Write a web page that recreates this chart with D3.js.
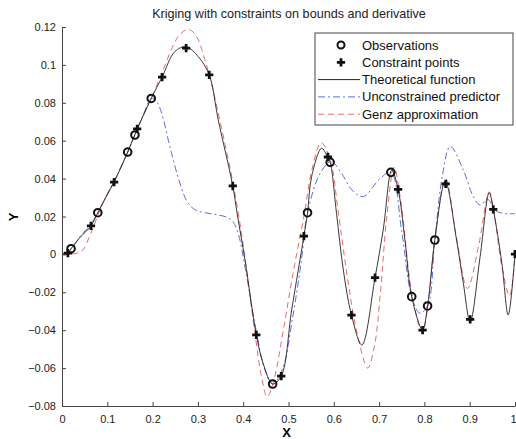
<!DOCTYPE html>
<html>
<head>
<meta charset="utf-8">
<script src="https://cdn.jsdelivr.net/npm/d3@7"></script>
<style>
  body { margin: 0; background: #fff; }
  svg { display: block; font-family: "Liberation Sans", Arial, sans-serif; }
</style>
</head>
<body>
<svg width="516" height="439"></svg>
<script>
// Data
const xTicks = [0, 0.1, 0.2, 0.3, 0.4, 0.5, 0.6, 0.7, 0.8, 0.9, 1];
const yTicks = [-0.08, -0.06, -0.04, -0.02, 0, 0.02, 0.04, 0.06, 0.08, 0.1, 0.12];

const obsX = [0.02, 0.079, 0.145, 0.161, 0.197, 0.465, 0.542, 0.592, 0.726, 0.772, 0.807, 0.823];
const obsY = [0.003, 0.022, 0.054, 0.063, 0.0823, -0.0684, 0.022, 0.0486, 0.0433, -0.0223, -0.0272, 0.0076];

const conX = [0.013, 0.064, 0.115, 0.166, 0.221, 0.274, 0.325, 0.377, 0.429, 0.484,
              0.534, 0.587, 0.639, 0.691, 0.742, 0.796, 0.847, 0.901, 0.952, 1.0];
const conY = [0.0007, 0.015, 0.0382, 0.0662, 0.0936, 0.1089, 0.0947, 0.0361, -0.0425, -0.0642,
              0.0097, 0.0514, -0.032, -0.0123, 0.0343, -0.0399, 0.0372, -0.0343, 0.0238, 0.0002];

const theoretical = [
  [0, 0], [0.013, 0.0007], [0.02, 0.003], [0.04, 0.009], [0.064, 0.015], [0.079, 0.022],
  [0.1, 0.0315], [0.115, 0.0382], [0.145, 0.054], [0.166, 0.0662], [0.197, 0.0823],
  [0.221, 0.0936], [0.249, 0.107], [0.274, 0.1096], [0.301, 0.1043], [0.325, 0.0947],
  [0.345, 0.0709], [0.377, 0.0361], [0.387, 0.021], [0.404, -0.003], [0.429, -0.0425],
  [0.444, -0.0575], [0.465, -0.0684], [0.484, -0.0642], [0.507, -0.0293], [0.534, 0.0097],
  [0.542, 0.022], [0.551, 0.041], [0.573, 0.056], [0.586, 0.0516], [0.592, 0.0486],
  [0.606, 0.0217], [0.621, -0.0082], [0.639, -0.032], [0.662, -0.0478], [0.691, -0.0123],
  [0.709, 0.0129], [0.728, 0.0445], [0.742, 0.0343], [0.757, 0.0076], [0.772, -0.0223],
  [0.796, -0.0399], [0.807, -0.0272], [0.823, 0.0076], [0.846, 0.0384], [0.871, 0.0076],
  [0.886, -0.0153], [0.901, -0.0355], [0.923, -0.0012], [0.943, 0.0326], [0.952, 0.0238],
  [0.971, -0.0047], [0.985, -0.032], [1, 0.0002]
];

const unconstrained = [
  [0, 0], [0.02, 0.003], [0.04, 0.0095], [0.064, 0.016], [0.079, 0.022], [0.1, 0.032],
  [0.12, 0.041], [0.145, 0.054], [0.161, 0.063], [0.18, 0.074], [0.197, 0.0823],
  [0.208, 0.081], [0.22, 0.0745], [0.238, 0.057], [0.256, 0.041], [0.276, 0.028],
  [0.294, 0.0235], [0.316, 0.022], [0.34, 0.021], [0.365, 0.0195], [0.378, 0.017],
  [0.389, 0.011], [0.405, -0.008], [0.43, -0.042], [0.448, -0.061], [0.465, -0.0684],
  [0.486, -0.061], [0.51, -0.032], [0.528, -0.004], [0.542, 0.022], [0.57, 0.0428],
  [0.594, 0.049], [0.617, 0.0428], [0.64, 0.034], [0.665, 0.0305], [0.702, 0.04],
  [0.726, 0.0433], [0.75, 0.012], [0.772, -0.0223], [0.79, -0.031], [0.807, -0.0272],
  [0.823, 0.0076], [0.84, 0.042], [0.857, 0.057], [0.886, 0.0445], [0.908, 0.0305],
  [0.923, 0.026], [0.94, 0.029], [0.958, 0.023], [0.98, 0.0215], [1, 0.0215]
];

const genz = [
  [0, 0], [0.03, 0.0005], [0.045, 0.002], [0.06, 0.009], [0.075, 0.018], [0.09, 0.027],
  [0.115, 0.0385], [0.145, 0.054], [0.166, 0.066], [0.197, 0.0825], [0.221, 0.096],
  [0.245, 0.11], [0.26, 0.116], [0.279, 0.1188], [0.297, 0.115], [0.315, 0.103],
  [0.33, 0.09], [0.35, 0.069], [0.378, 0.037], [0.4, 0.005], [0.425, -0.04],
  [0.44, -0.064], [0.453, -0.0752], [0.468, -0.066], [0.49, -0.038], [0.51, -0.01],
  [0.534, 0.02], [0.552, 0.045], [0.572, 0.059], [0.592, 0.05], [0.61, 0.022],
  [0.63, -0.012], [0.65, -0.04], [0.675, -0.06], [0.69, -0.048], [0.703, -0.02],
  [0.717, 0.02], [0.733, 0.046], [0.748, 0.028], [0.772, -0.02], [0.795, -0.041],
  [0.808, -0.027], [0.823, 0.0076], [0.847, 0.04], [0.87, 0.01], [0.895, -0.018],
  [0.92, 0.005], [0.943, 0.033], [0.955, 0.02], [0.97, -0.005], [0.988, -0.022], [1, 0]
];

const legendLabels = ["Observations", "Constraint points", "Theoretical function",
                      "Unconstrained predictor", "Genz approximation"];

// Layout
const svg = d3.select("svg");
const margin = { top: 27, right: 1, bottom: 33, left: 62 };
const width = +svg.attr("width") - margin.left - margin.right;
const height = +svg.attr("height") - margin.top - margin.bottom;
const chart = svg.append("g").attr("transform", `translate(${margin.left},${margin.top})`);

const x = d3.scaleLinear().domain([0, 1]).range([0, width]);
const y = d3.scaleLinear().domain([-0.08, 0.12]).range([height, 0]);

const blue = "#5e6fe0";
const red = "#ec6a6a";

// axes (ticks inside, like MATLAB)
const xAxis = chart.append("g")
  .attr("transform", `translate(0,${height})`)
  .call(d3.axisBottom(x).tickValues(xTicks).tickSize(-4).tickSizeOuter(0)
    .tickPadding(9).tickFormat(d => d3.format("~g")(d)));
const yAxis = chart.append("g")
  .call(d3.axisLeft(y).tickValues(yTicks).tickSize(-4).tickSizeOuter(0)
    .tickPadding(6).tickFormat(d => d3.format("~g")(d)));

[xAxis, yAxis].forEach(a => {
  a.select(".domain").attr("stroke", "#444");
  a.selectAll(".tick line").attr("stroke", "#444");
  a.selectAll(".tick text").attr("fill", "#222").style("font-size", "11px");
});
// last x label sits on the page edge: keep it inside
xAxis.selectAll(".tick text").filter(d => d === 1).attr("text-anchor", "end").attr("dx", "1");

const line = d3.line()
  .x(d => x(d[0]))
  .y(d => y(d[1]))
  .curve(d3.curveCatmullRom.alpha(0.5));

// curves
chart.append("path").datum(unconstrained)
  .attr("fill", "none").attr("stroke", blue).attr("stroke-width", 1)
  .attr("stroke-dasharray", "7,3,2,3").attr("d", line);
chart.append("path").datum(genz)
  .attr("fill", "none").attr("stroke", red).attr("stroke-width", 1)
  .attr("stroke-dasharray", "6,4").attr("d", line);
chart.append("path").datum(theoretical)
  .attr("fill", "none").attr("stroke", "#222").attr("stroke-width", 0.9).attr("d", line);

// observations
chart.selectAll(".obs")
  .data(obsX.map((v, i) => [v, obsY[i]]))
  .enter().append("circle")
  .attr("class", "obs")
  .attr("cx", d => x(d[0])).attr("cy", d => y(d[1]))
  .attr("r", 3.8)
  .attr("fill", "none").attr("stroke", "#111").attr("stroke-width", 2);

// constraint points
const plus = d3.symbol().type(d3.symbolCross).size(38);
chart.selectAll(".con")
  .data(conX.map((v, i) => [v, conY[i]]))
  .enter().append("path")
  .attr("class", "con")
  .attr("transform", d => `translate(${x(d[0])},${y(d[1])})`)
  .attr("d", plus)
  .attr("fill", "#111");

// title and axis labels
svg.append("text")
  .attr("x", 289).attr("y", 18)
  .attr("text-anchor", "middle")
  .style("font-size", "12.6px").attr("fill", "#222")
  .text("Kriging with constraints on bounds and derivative");

svg.append("text")
  .attr("x", margin.left + width / 2 - 2).attr("y", 437)
  .attr("text-anchor", "middle")
  .style("font-size", "13px").style("font-weight", "bold")
  .text("X");

svg.append("text")
  .attr("transform", "rotate(-90)")
  .attr("x", -217).attr("y", 18)
  .attr("text-anchor", "middle")
  .style("font-size", "13px").style("font-weight", "bold")
  .text("Y");

// legend
const legend = svg.append("g").attr("transform", "translate(315,33)");
legend.append("rect")
  .attr("width", 198).attr("height", 92)
  .attr("fill", "#fff").attr("stroke", "#444").attr("stroke-width", 1);

const rowY = i => 12 + i * 17.3;
legendLabels.forEach((label, i) => {
  const g = legend.append("g").attr("transform", `translate(0,${rowY(i)})`);
  if (i === 0) {
    g.append("circle").attr("cx", 26).attr("cy", 0).attr("r", 3.5)
      .attr("fill", "none").attr("stroke", "#111").attr("stroke-width", 2);
  } else if (i === 1) {
    g.append("path").attr("transform", "translate(26,0)").attr("d", plus).attr("fill", "#111");
  } else {
    const colors = [null, null, "#222", blue, red];
    const dashes = [null, null, null, "7,3,2,3", "6,4"];
    g.append("line").attr("x1", 3).attr("x2", 45).attr("y1", 0).attr("y2", 0)
      .attr("stroke", colors[i]).attr("stroke-width", 1)
      .attr("stroke-dasharray", dashes[i]);
  }
  g.append("text")
    .attr("x", 47).attr("y", 4.5)
    .style("font-size", "13px").attr("fill", "#111")
    .text(label);
});
</script>
</body>
</html>
